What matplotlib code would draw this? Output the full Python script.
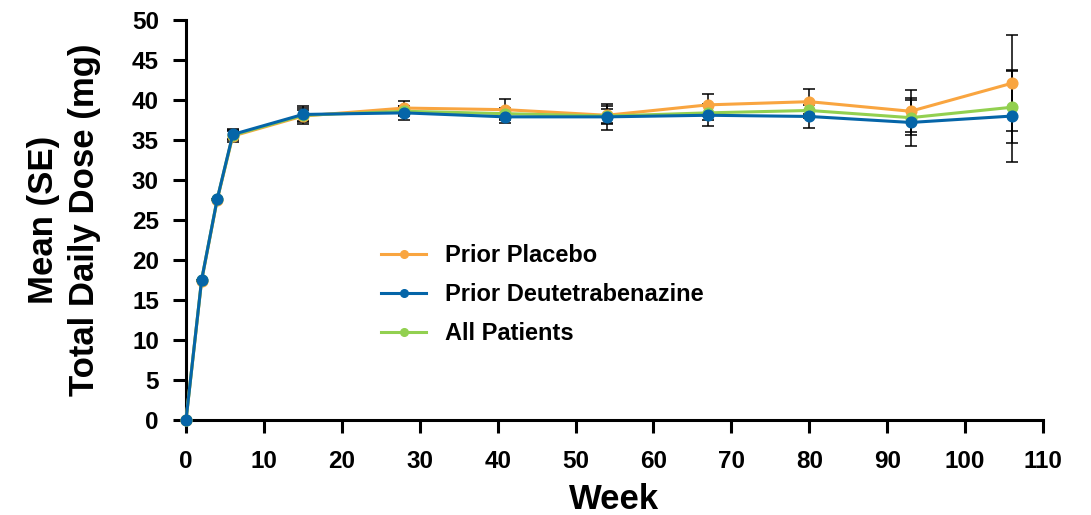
import matplotlib
matplotlib.use("Agg")
import numpy as np
import matplotlib.pyplot as plt
from matplotlib.lines import Line2D

# --- data ---
weeks = [0, 2, 4, 6, 15, 28, 41, 54, 67, 80, 93, 106]

placebo = [0, 17.4, 27.5, 35.5, 38.0, 39.0, 38.8, 38.1, 39.4, 39.8, 38.6, 42.1]
placebo_se = [0, 0, 0, 0.8, 1.0, 0.9, 1.3, 1.15, 1.4, 1.6, 2.6, 6.0]

deutet = [0, 17.5, 27.6, 35.7, 38.2, 38.4, 37.9, 37.9, 38.1, 37.95, 37.2, 38.0]
deutet_se = [0, 0, 0, 0.7, 1.0, 0.9, 0.8, 1.65, 1.35, 1.4, 3.0, 5.8]

allpat = [0, 17.5, 27.6, 35.6, 38.1, 38.6, 38.3, 38.0, 38.4, 38.7, 37.8, 39.1]
allpat_se = [0, 0, 0, 0.5, 0.7, 0.6, 0.7, 0.9, 0.9, 1.0, 2.2, 4.5]

c_orange = '#F9A540'
c_blue = '#0565A8'
c_green = '#92D050'

plt.rcParams['font.family'] = ['Liberation Sans', 'DejaVu Sans']
plt.rcParams['font.weight'] = 'bold'

fig = plt.figure(figsize=(10.91, 5.15), dpi=100)
ax = fig.add_axes([0.1705, 0.1845, 0.7855, 0.7765])

series = [
    (placebo, placebo_se, c_orange, 'Prior Placebo', 3),
    (allpat, allpat_se, c_green, 'All Patients', 4),
    (deutet, deutet_se, c_blue, 'Prior Deutetrabenazine', 5),
]
for vals, se, col, lab, z in series:
    ax.errorbar(weeks, vals, yerr=se, fmt='none', ecolor='black',
                elinewidth=1.1, capsize=4.5, capthick=1.1, zorder=2)
for vals, se, col, lab, z in series:
    ln, = ax.plot(weeks, vals, '-o', color=col, lw=2.2, ms=7.7, zorder=z)
    ln.set_clip_on(False)

ax.set_xlim(0, 110)
ax.set_ylim(0, 50)
ax.set_xticks(np.arange(0, 111, 10))
ax.set_yticks(np.arange(0, 51, 5))
ax.spines['top'].set_visible(False)
ax.spines['right'].set_visible(False)
for s in ['left', 'bottom']:
    ax.spines[s].set_linewidth(2.2)
ax.tick_params(width=2.2, length=9.5, labelsize=17.5)
ax.tick_params(axis='y', pad=10)
ax.tick_params(axis='x', pad=12)
for t in ax.get_xticklabels() + ax.get_yticklabels():
    t.set_fontweight('bold')

ax.set_xlabel('Week', fontsize=25, fontweight='bold', labelpad=7)
ax.set_ylabel('Mean (SE)\nTotal Daily Dose (mg)', fontsize=25,
              fontweight='bold', labelpad=22, linespacing=1.32)

handles = [Line2D([], [], color=c, lw=2.2, marker='o', ms=5.5)
           for c in (c_orange, c_blue, c_green)]
labels = ['Prior Placebo', 'Prior Deutetrabenazine', 'All Patients']
leg = ax.legend(handles, labels, loc='upper left',
                bbox_to_anchor=(0.228, 0.44), frameon=False, fontsize=17,
                borderpad=0, borderaxespad=0, handlelength=1.9,
                handletextpad=0.8, labelspacing=0.68)
for t in leg.get_texts():
    t.set_fontweight('bold')

fig.savefig('out.png', dpi=100)
